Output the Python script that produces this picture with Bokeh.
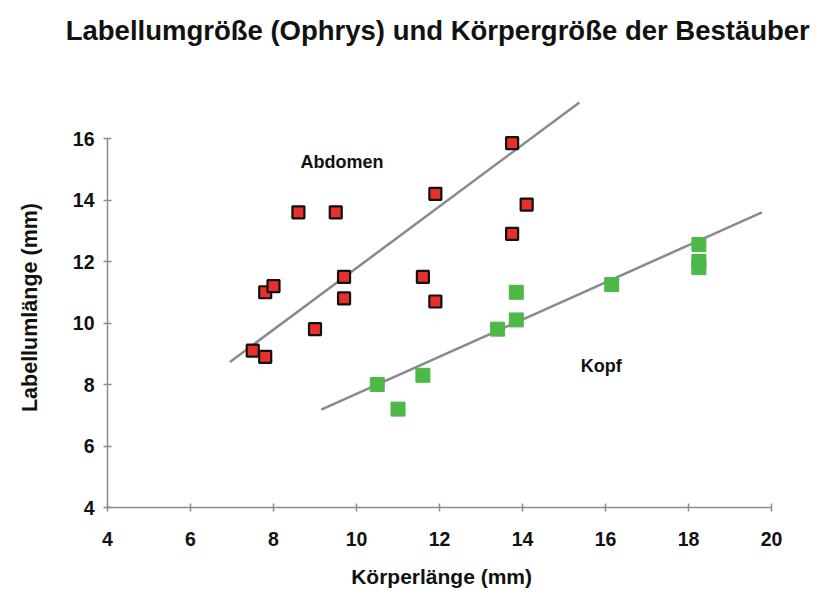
from bokeh.plotting import figure
from bokeh.models import FixedTicker, Range1d, Label
from bokeh.embed import file_html
from bokeh.resources import INLINE
import math

# Abdomen (red)
abd_x = [7.5, 7.8, 7.8, 8.0, 8.6, 9.5, 9.0, 9.7, 9.7, 11.9, 11.6, 11.9, 13.75, 13.75, 14.1]
abd_y = [9.1, 8.9, 11.0, 11.2, 13.6, 13.6, 9.8, 11.5, 10.8, 14.2, 11.5, 10.7, 15.85, 12.9, 13.85]
# Kopf (green)
kopf_x = [10.5, 11.0, 11.6, 13.4, 13.85, 13.85, 16.15, 18.25, 18.25, 18.25]
kopf_y = [8.0, 7.2, 8.3, 9.8, 10.1, 11.0, 11.25, 12.55, 12.0, 11.8]
# trend lines (endpoints)
abd_fit_x = [6.95, 15.37]
abd_fit_y = [8.73, 17.17]
kopf_fit_x = [9.15, 19.77]
kopf_fit_y = [7.18, 13.6]

x_ticks = [4, 6, 8, 10, 12, 14, 16, 18, 20]
y_ticks = [4, 6, 8, 10, 12, 14, 16]

TITLE = "Labellumgröße (Ophrys)  und Körpergröße der Bestäuber"
X_TITLE = "Körperlänge (mm)"
Y_TITLE = "Labellumlänge (mm)"
FONT = "Liberation Sans"

W, H = 811, 593
PX_X, PX_Y = 41.5, 30.75          # pixels per data unit
X0_PX, Y0_PX = 107, 507            # canvas position of the (4, 4) corner
x_start = 4 - X0_PX / PX_X
y_start = 4 - (H - Y0_PX) / PX_Y

p = figure(width=W, height=H, output_backend="svg", toolbar_location=None,
           x_range=Range1d(x_start, x_start + W / PX_X),
           y_range=Range1d(y_start, y_start + H / PX_Y),
           min_border=0, min_border_left=0, min_border_right=0,
           min_border_top=0, min_border_bottom=0)

p.xgrid.visible = False
p.ygrid.visible = False
p.outline_line_color = None
p.background_fill_color = "white"
p.border_fill_color = "white"

for ax, ticks, bounds in ((p.xaxis[0], x_ticks, (4, 20)), (p.yaxis[0], y_ticks, (4, 16))):
    ax.fixed_location = 4
    ax.ticker = FixedTicker(ticks=ticks)
    ax.bounds = bounds
    ax.axis_line_color = "#8c8c8c"
    ax.axis_line_width = 1.5
    ax.major_tick_line_color = "#8c8c8c"
    ax.major_tick_line_width = 1.5
    ax.major_tick_in = 4
    ax.major_tick_out = 4
    ax.minor_tick_line_color = None
    ax.major_label_text_font = FONT
    ax.major_label_text_font_size = "19.5px"
    ax.major_label_text_font_style = "bold"
    ax.major_label_text_color = "#111111"

p.xaxis.major_label_standoff = 20
p.yaxis.major_label_standoff = 9

p.line(abd_fit_x, abd_fit_y, line_color="#8a8a8a", line_width=2.5)
p.line(kopf_fit_x, kopf_fit_y, line_color="#8a8a8a", line_width=2.5)

p.scatter(kopf_x, kopf_y, marker="square", size=14, fill_color="#4db848",
          line_color="#4db848", line_width=1)
p.scatter(abd_x, abd_y, marker="square", size=12, fill_color="#e8302a",
          line_color="#111111", line_width=2.2)


def add_label(x, y, text, size, angle=0.0):
    p.add_layout(Label(x=x, y=y, text=text, angle=angle, text_align="center",
                       text_baseline="middle", text_font=FONT, text_font_size=size,
                       text_font_style="bold", text_color="#111111"))


add_label(12.05, 4 + (Y0_PX - 30) / PX_Y, TITLE, "27.5px")
add_label(12.05, 4 + (Y0_PX - 576) / PX_Y, X_TITLE, "21px")
add_label(4 + (29 - X0_PX) / PX_X, 4 + (Y0_PX - 307) / PX_Y, Y_TITLE, "21.5px", angle=math.pi / 2)
add_label(9.65, 15.22, "Abdomen", "18px")
add_label(15.9, 8.59, "Kopf", "18px")

open("out.html", "w").write(file_html(p, INLINE))
